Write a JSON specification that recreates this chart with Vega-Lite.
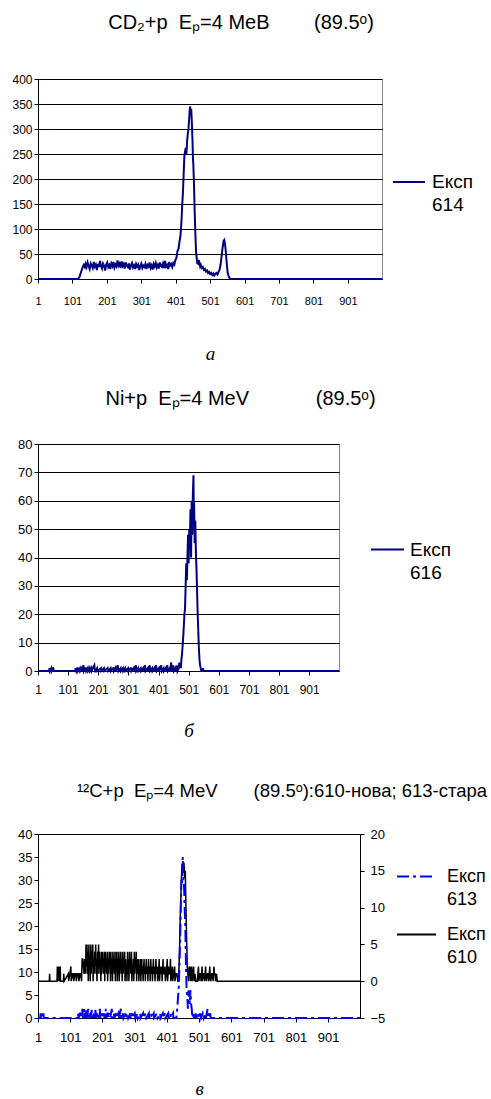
{
"$schema": "https://vega.github.io/schema/vega-lite/v6.json",
"background": "white",
"padding": {"left": 11, "top": 12, "right": 0, "bottom": 0},
"config": {
 "font": "Liberation Sans",
 "view": {"stroke": "#888888"},
 "style": {"guide-label": {"lineHeight": 23}},
 "title": {"font": "Liberation Sans", "fontWeight": "normal", "color": "#000", "anchor": "middle", "baseline": "alphabetic"},
 "axis": {"labelFont": "Liberation Sans", "labelColor": "#000", "domainColor": "#000", "tickColor": "#000", "labelFontSize": 12, "tickSize": 4, "grid": false, "labelPadding": 2,
   "titleFont": "Liberation Serif", "titleFontStyle": "italic", "titleFontWeight": "normal", "titleFontSize": 19, "titleColor": "#000"},
 "legend": {"labelFont": "Liberation Sans", "labelColor": "#000", "symbolType": "stroke", "padding": 0}
},
"datasets": {
"a": [{"c":1,"v":0},{"c":118,"v":0},{"c":122,"v":5},{"c":125,"v":12},{"c":128,"v":18},{"c":131,"v":24},{"c":134,"v":28},{"c":137,"v":24},{"c":139,"v":30},{"c":142,"v":24},{"c":145,"v":33},{"c":148,"v":26},{"c":151,"v":20},{"c":154,"v":31},{"c":157,"v":27},{"c":160,"v":22},{"c":163,"v":34},{"c":166,"v":25},{"c":169,"v":29},{"c":172,"v":18},{"c":175,"v":30},{"c":178,"v":24},{"c":181,"v":36},{"c":184,"v":26},{"c":187,"v":21},{"c":190,"v":31},{"c":193,"v":27},{"c":196,"v":17},{"c":199,"v":29},{"c":202,"v":33},{"c":205,"v":24},{"c":208,"v":28},{"c":211,"v":20},{"c":214,"v":31},{"c":217,"v":26},{"c":220,"v":34},{"c":223,"v":23},{"c":226,"v":29},{"c":229,"v":25},{"c":232,"v":37},{"c":235,"v":27},{"c":238,"v":31},{"c":241,"v":22},{"c":244,"v":35},{"c":247,"v":26},{"c":250,"v":30},{"c":253,"v":21},{"c":256,"v":33},{"c":259,"v":27},{"c":262,"v":24},{"c":265,"v":31},{"c":268,"v":19},{"c":271,"v":28},{"c":274,"v":32},{"c":277,"v":23},{"c":280,"v":27},{"c":283,"v":20},{"c":286,"v":30},{"c":289,"v":25},{"c":292,"v":29},{"c":295,"v":18},{"c":298,"v":26},{"c":301,"v":31},{"c":304,"v":22},{"c":307,"v":27},{"c":310,"v":24},{"c":313,"v":30},{"c":316,"v":20},{"c":319,"v":28},{"c":322,"v":25},{"c":325,"v":33},{"c":328,"v":22},{"c":331,"v":27},{"c":334,"v":19},{"c":337,"v":30},{"c":340,"v":25},{"c":343,"v":32},{"c":346,"v":23},{"c":349,"v":28},{"c":352,"v":21},{"c":355,"v":33},{"c":358,"v":26},{"c":361,"v":24},{"c":364,"v":31},{"c":367,"v":22},{"c":370,"v":36},{"c":373,"v":25},{"c":376,"v":28},{"c":379,"v":20},{"c":382,"v":34},{"c":385,"v":27},{"c":388,"v":30},{"c":391,"v":24},{"c":394,"v":32},{"c":397,"v":29},{"c":400,"v":38},{"c":403,"v":42},{"c":406,"v":56},{"c":409,"v":60},{"c":412,"v":75},{"c":415,"v":88},{"c":418,"v":120},{"c":420,"v":150},{"c":422,"v":175},{"c":424,"v":210},{"c":426,"v":245},{"c":428,"v":255},{"c":430,"v":262},{"c":432,"v":250},{"c":434,"v":275},{"c":436,"v":290},{"c":438,"v":300},{"c":440,"v":320},{"c":442,"v":342},{"c":443,"v":345},{"c":444,"v":335},{"c":446,"v":340},{"c":448,"v":310},{"c":450,"v":270},{"c":451,"v":240},{"c":452,"v":230},{"c":454,"v":190},{"c":456,"v":136},{"c":458,"v":90},{"c":460,"v":55},{"c":462,"v":40},{"c":464,"v":30},{"c":466,"v":38},{"c":468,"v":28},{"c":470,"v":32},{"c":472,"v":25},{"c":474,"v":28},{"c":477,"v":22},{"c":480,"v":24},{"c":483,"v":18},{"c":486,"v":20},{"c":489,"v":15},{"c":492,"v":17},{"c":495,"v":12},{"c":498,"v":14},{"c":501,"v":10},{"c":504,"v":12},{"c":507,"v":8},{"c":510,"v":11},{"c":513,"v":7},{"c":516,"v":10},{"c":519,"v":12},{"c":522,"v":9},{"c":525,"v":14},{"c":528,"v":18},{"c":531,"v":28},{"c":534,"v":45},{"c":537,"v":62},{"c":540,"v":76},{"c":542,"v":78},{"c":544,"v":70},{"c":546,"v":58},{"c":548,"v":40},{"c":550,"v":25},{"c":552,"v":12},{"c":555,"v":5},{"c":558,"v":1},{"c":561,"v":0},{"c":1000,"v":0}],
"b": [{"c":1,"v":0},{"c":38,"v":0},{"c":39,"v":1},{"c":40,"v":0},{"c":45,"v":1},{"c":46,"v":0},{"c":50,"v":1},{"c":52,"v":1},{"c":53,"v":0},{"c":125,"v":0},{"c":126,"v":1},{"c":128,"v":0},{"c":131,"v":1},{"c":133,"v":1},{"c":134,"v":0},{"c":140,"v":1},{"c":141,"v":0},{"c":146,"v":1},{"c":148,"v":0},{"c":152,"v":2},{"c":153,"v":0},{"c":158,"v":1},{"c":160,"v":1},{"c":161,"v":0},{"c":166,"v":1},{"c":167,"v":0},{"c":172,"v":1},{"c":173,"v":0},{"c":178,"v":1},{"c":179,"v":0},{"c":188,"v":2},{"c":189,"v":1},{"c":191,"v":0},{"c":197,"v":1},{"c":198,"v":0},{"c":210,"v":1},{"c":211,"v":0},{"c":220,"v":1},{"c":221,"v":0},{"c":232,"v":1},{"c":234,"v":0},{"c":242,"v":1},{"c":243,"v":0},{"c":250,"v":1},{"c":252,"v":1},{"c":253,"v":0},{"c":258,"v":1},{"c":259,"v":0},{"c":266,"v":2},{"c":267,"v":1},{"c":268,"v":0},{"c":275,"v":1},{"c":276,"v":0},{"c":283,"v":1},{"c":284,"v":0},{"c":290,"v":1},{"c":291,"v":0},{"c":300,"v":1},{"c":301,"v":0},{"c":308,"v":1},{"c":310,"v":1},{"c":311,"v":0},{"c":318,"v":1},{"c":319,"v":0},{"c":326,"v":2},{"c":327,"v":0},{"c":333,"v":1},{"c":334,"v":0},{"c":342,"v":1},{"c":343,"v":0},{"c":350,"v":1},{"c":351,"v":0},{"c":356,"v":2},{"c":357,"v":1},{"c":358,"v":0},{"c":365,"v":1},{"c":366,"v":0},{"c":372,"v":2},{"c":373,"v":0},{"c":380,"v":1},{"c":381,"v":0},{"c":387,"v":1},{"c":388,"v":0},{"c":393,"v":2},{"c":394,"v":1},{"c":395,"v":0},{"c":402,"v":1},{"c":403,"v":0},{"c":410,"v":2},{"c":411,"v":1},{"c":412,"v":0},{"c":418,"v":1},{"c":419,"v":0},{"c":425,"v":1},{"c":426,"v":0},{"c":430,"v":2},{"c":431,"v":1},{"c":432,"v":0},{"c":438,"v":1},{"c":439,"v":0},{"c":443,"v":3},{"c":444,"v":1},{"c":446,"v":0},{"c":450,"v":2},{"c":451,"v":1},{"c":452,"v":0},{"c":457,"v":1},{"c":458,"v":0},{"c":462,"v":2},{"c":463,"v":1},{"c":464,"v":0},{"c":468,"v":1},{"c":470,"v":3},{"c":471,"v":1},{"c":473,"v":2},{"c":475,"v":1},{"c":477,"v":4},{"c":479,"v":6},{"c":481,"v":9},{"c":483,"v":12},{"c":485,"v":16},{"c":487,"v":20},{"c":489,"v":22},{"c":491,"v":30},{"c":493,"v":38},{"c":495,"v":32},{"c":497,"v":40},{"c":499,"v":48},{"c":501,"v":38},{"c":503,"v":50},{"c":505,"v":44},{"c":507,"v":57},{"c":509,"v":40},{"c":511,"v":60},{"c":513,"v":48},{"c":515,"v":62},{"c":517,"v":69},{"c":518,"v":55},{"c":519,"v":60},{"c":521,"v":45},{"c":523,"v":53},{"c":525,"v":42},{"c":527,"v":36},{"c":529,"v":28},{"c":531,"v":20},{"c":533,"v":14},{"c":535,"v":8},{"c":537,"v":4},{"c":539,"v":2},{"c":541,"v":1},{"c":543,"v":0},{"c":548,"v":0},{"c":549,"v":1},{"c":550,"v":0},{"c":1000,"v":0}],
"c613": [{"c":1,"v":0},{"c":8,"v":0},{"c":9,"v":1},{"c":10,"v":0},{"c":14,"v":1},{"c":15,"v":0},{"c":18,"v":1},{"c":19,"v":0},{"c":124,"v":0},{"c":125,"v":1},{"c":127,"v":0},{"c":130,"v":1},{"c":132,"v":1},{"c":134,"v":0},{"c":138,"v":2},{"c":139,"v":1},{"c":141,"v":0},{"c":144,"v":2},{"c":146,"v":1},{"c":148,"v":0},{"c":150,"v":2},{"c":152,"v":0},{"c":155,"v":1},{"c":157,"v":2},{"c":158,"v":0},{"c":162,"v":1},{"c":164,"v":0},{"c":167,"v":2},{"c":168,"v":1},{"c":170,"v":0},{"c":174,"v":1},{"c":176,"v":0},{"c":180,"v":2},{"c":181,"v":0},{"c":185,"v":1},{"c":187,"v":0},{"c":191,"v":1},{"c":193,"v":2},{"c":194,"v":0},{"c":199,"v":1},{"c":200,"v":0},{"c":205,"v":1},{"c":207,"v":0},{"c":211,"v":2},{"c":212,"v":0},{"c":216,"v":1},{"c":218,"v":1},{"c":219,"v":0},{"c":224,"v":1},{"c":225,"v":0},{"c":230,"v":2},{"c":231,"v":0},{"c":236,"v":1},{"c":238,"v":0},{"c":243,"v":1},{"c":244,"v":0},{"c":250,"v":1},{"c":252,"v":0},{"c":258,"v":2},{"c":259,"v":0},{"c":264,"v":1},{"c":266,"v":0},{"c":272,"v":1},{"c":273,"v":0},{"c":279,"v":1},{"c":281,"v":0},{"c":287,"v":1},{"c":288,"v":0},{"c":293,"v":1},{"c":294,"v":0},{"c":301,"v":1},{"c":303,"v":0},{"c":310,"v":1},{"c":311,"v":0},{"c":318,"v":1},{"c":319,"v":0},{"c":327,"v":1},{"c":328,"v":0},{"c":335,"v":1},{"c":337,"v":0},{"c":345,"v":1},{"c":346,"v":0},{"c":352,"v":1},{"c":353,"v":0},{"c":360,"v":1},{"c":361,"v":0},{"c":370,"v":1},{"c":372,"v":0},{"c":380,"v":1},{"c":381,"v":0},{"c":388,"v":1},{"c":389,"v":0},{"c":395,"v":1},{"c":396,"v":0},{"c":405,"v":1},{"c":406,"v":0},{"c":412,"v":1},{"c":413,"v":0},{"c":420,"v":1},{"c":421,"v":0},{"c":430,"v":0},{"c":433,"v":2},{"c":436,"v":5},{"c":438,"v":7},{"c":440,"v":12},{"c":442,"v":17},{"c":444,"v":24},{"c":446,"v":30},{"c":448,"v":29},{"c":450,"v":35},{"c":452,"v":30},{"c":454,"v":29},{"c":456,"v":24},{"c":458,"v":20},{"c":460,"v":12},{"c":462,"v":6},{"c":464,"v":5},{"c":466,"v":2},{"c":468,"v":6},{"c":470,"v":5},{"c":472,"v":3},{"c":474,"v":6},{"c":476,"v":3},{"c":478,"v":2},{"c":480,"v":0},{"c":483,"v":1},{"c":486,"v":0},{"c":490,"v":1},{"c":493,"v":0},{"c":497,"v":1},{"c":500,"v":0},{"c":504,"v":1},{"c":507,"v":0},{"c":512,"v":1},{"c":515,"v":0},{"c":520,"v":1},{"c":522,"v":0},{"c":527,"v":2},{"c":528,"v":1},{"c":530,"v":0},{"c":535,"v":1},{"c":537,"v":0},{"c":1000,"v":0}],
"c610": [{"c":1,"v":0},{"c":36,"v":0},{"c":37,"v":1},{"c":38,"v":0},{"c":60,"v":0},{"c":61,"v":2},{"c":62,"v":0},{"c":66,"v":2},{"c":67,"v":0},{"c":70,"v":2},{"c":71,"v":0},{"c":80,"v":0},{"c":81,"v":1},{"c":82,"v":0},{"c":95,"v":1},{"c":96,"v":0},{"c":103,"v":2},{"c":104,"v":0},{"c":108,"v":1},{"c":110,"v":1},{"c":112,"v":0},{"c":115,"v":1},{"c":118,"v":1},{"c":120,"v":0},{"c":123,"v":1},{"c":126,"v":1},{"c":128,"v":0},{"c":131,"v":1},{"c":134,"v":1},{"c":136,"v":0},{"c":138,"v":3},{"c":140,"v":3},{"c":142,"v":2},{"c":144,"v":1},{"c":146,"v":3},{"c":148,"v":1},{"c":150,"v":5},{"c":151,"v":2},{"c":153,"v":5},{"c":154,"v":1},{"c":156,"v":4},{"c":157,"v":0},{"c":159,"v":5},{"c":160,"v":2},{"c":162,"v":3},{"c":163,"v":0},{"c":165,"v":5},{"c":166,"v":1},{"c":168,"v":4},{"c":169,"v":2},{"c":171,"v":5},{"c":172,"v":0},{"c":174,"v":3},{"c":175,"v":1},{"c":177,"v":4},{"c":178,"v":2},{"c":180,"v":5},{"c":181,"v":1},{"c":183,"v":3},{"c":184,"v":0},{"c":186,"v":4},{"c":187,"v":2},{"c":189,"v":5},{"c":190,"v":1},{"c":192,"v":4},{"c":193,"v":2},{"c":195,"v":3},{"c":196,"v":0},{"c":198,"v":4},{"c":199,"v":1},{"c":201,"v":4},{"c":202,"v":2},{"c":204,"v":3},{"c":205,"v":1},{"c":207,"v":4},{"c":208,"v":0},{"c":210,"v":4},{"c":211,"v":2},{"c":213,"v":3},{"c":214,"v":1},{"c":216,"v":4},{"c":217,"v":0},{"c":219,"v":3},{"c":220,"v":1},{"c":222,"v":4},{"c":223,"v":2},{"c":225,"v":4},{"c":226,"v":0},{"c":228,"v":3},{"c":229,"v":1},{"c":231,"v":4},{"c":232,"v":0},{"c":234,"v":3},{"c":235,"v":2},{"c":237,"v":4},{"c":238,"v":1},{"c":240,"v":3},{"c":241,"v":0},{"c":243,"v":4},{"c":244,"v":2},{"c":246,"v":4},{"c":247,"v":0},{"c":249,"v":3},{"c":250,"v":1},{"c":252,"v":4},{"c":253,"v":0},{"c":255,"v":3},{"c":256,"v":2},{"c":258,"v":4},{"c":259,"v":1},{"c":261,"v":3},{"c":262,"v":0},{"c":264,"v":4},{"c":265,"v":1},{"c":267,"v":3},{"c":268,"v":2},{"c":270,"v":4},{"c":271,"v":0},{"c":273,"v":3},{"c":274,"v":1},{"c":276,"v":2},{"c":277,"v":0},{"c":279,"v":4},{"c":280,"v":1},{"c":282,"v":3},{"c":283,"v":0},{"c":285,"v":4},{"c":286,"v":2},{"c":288,"v":3},{"c":289,"v":1},{"c":291,"v":4},{"c":292,"v":0},{"c":294,"v":2},{"c":295,"v":1},{"c":297,"v":3},{"c":298,"v":0},{"c":300,"v":4},{"c":301,"v":1},{"c":303,"v":3},{"c":304,"v":2},{"c":306,"v":4},{"c":307,"v":0},{"c":309,"v":3},{"c":310,"v":1},{"c":313,"v":3},{"c":314,"v":0},{"c":316,"v":2},{"c":317,"v":1},{"c":319,"v":3},{"c":320,"v":0},{"c":323,"v":3},{"c":324,"v":1},{"c":326,"v":2},{"c":327,"v":0},{"c":330,"v":3},{"c":331,"v":1},{"c":333,"v":2},{"c":334,"v":0},{"c":337,"v":3},{"c":338,"v":1},{"c":341,"v":2},{"c":342,"v":0},{"c":344,"v":3},{"c":345,"v":1},{"c":348,"v":2},{"c":349,"v":0},{"c":351,"v":3},{"c":352,"v":1},{"c":355,"v":2},{"c":356,"v":0},{"c":359,"v":3},{"c":360,"v":1},{"c":363,"v":2},{"c":364,"v":0},{"c":367,"v":3},{"c":368,"v":1},{"c":371,"v":2},{"c":372,"v":0},{"c":375,"v":1},{"c":377,"v":3},{"c":378,"v":0},{"c":381,"v":2},{"c":382,"v":1},{"c":385,"v":2},{"c":386,"v":0},{"c":389,"v":3},{"c":390,"v":1},{"c":393,"v":1},{"c":395,"v":2},{"c":396,"v":0},{"c":399,"v":1},{"c":402,"v":3},{"c":403,"v":0},{"c":406,"v":2},{"c":407,"v":1},{"c":410,"v":1},{"c":412,"v":3},{"c":413,"v":0},{"c":416,"v":1},{"c":418,"v":2},{"c":419,"v":0},{"c":422,"v":1},{"c":425,"v":2},{"c":426,"v":0},{"c":429,"v":1},{"c":432,"v":1},{"c":435,"v":0},{"c":437,"v":0},{"c":440,"v":4},{"c":442,"v":8},{"c":444,"v":11},{"c":446,"v":14},{"c":448,"v":16},{"c":450,"v":15},{"c":452,"v":16},{"c":454,"v":16},{"c":456,"v":14},{"c":458,"v":15},{"c":460,"v":10},{"c":462,"v":6},{"c":464,"v":2},{"c":466,"v":1},{"c":468,"v":0},{"c":470,"v":2},{"c":471,"v":1},{"c":473,"v":2},{"c":474,"v":0},{"c":476,"v":1},{"c":478,"v":2},{"c":479,"v":0},{"c":482,"v":1},{"c":484,"v":2},{"c":485,"v":0},{"c":488,"v":1},{"c":490,"v":0},{"c":495,"v":0},{"c":497,"v":1},{"c":499,"v":2},{"c":500,"v":0},{"c":503,"v":1},{"c":505,"v":1},{"c":507,"v":0},{"c":510,"v":2},{"c":511,"v":0},{"c":514,"v":1},{"c":516,"v":1},{"c":518,"v":0},{"c":521,"v":2},{"c":522,"v":1},{"c":524,"v":0},{"c":527,"v":1},{"c":529,"v":1},{"c":531,"v":0},{"c":534,"v":2},{"c":535,"v":1},{"c":537,"v":0},{"c":540,"v":1},{"c":542,"v":1},{"c":544,"v":0},{"c":547,"v":2},{"c":548,"v":1},{"c":550,"v":1},{"c":552,"v":0},{"c":555,"v":1},{"c":557,"v":0},{"c":1000,"v":0}]
},
"spacing": 40,
"resolve": {"scale": {"color": "independent", "strokeDash": "independent"}, "legend": {"color": "independent", "strokeDash": "independent"}},
"vconcat": [
{
 "spacing": 24,
 "resolve": {"scale": {"color": "independent"}, "legend": {"color": "independent"}},
 "vconcat": [
 {
  "width": 344, "height": 200,
  "title": {"text": "CD₂+p\u00a0\u00a0Eₚ=4 MeB\u00a0\u00a0\u00a0\u00a0\u00a0\u00a0\u00a0\u00a0(89.5ᵒ)", "fontSize": 20, "dx": 31, "offset": 40},
  "data": {"name": "a"},
  "mark": {"type": "line", "strokeWidth": 2},
  "encoding": {
   "x": {"field": "c", "type": "quantitative", "scale": {"domain": [1, 1000], "nice": false, "zero": false},
     "axis": {"values": [1,101,201,301,401,501,601,701,801,901], "labelFlush": false, "labelFontSize": 11, "labelPadding": 12, "title": "а", "titlePadding": 38}},
   "y": {"field": "v", "type": "quantitative", "scale": {"domain": [0, 400], "nice": false},
     "axis": {"values": [0,50,100,150,200,250,300,350,400], "grid": true, "gridColor": "#000", "gridOpacity": 1, "title": null}},
   "color": {"datum": "614", "type": "nominal", "scale": {"range": ["#000080"]},
     "legend": {"orient": "none", "legendX": 354, "legendY": 86, "title": null, "symbolSize": 1024, "symbolStrokeWidth": 2, "labelFontSize": 19, "labelOffset": 6, "labelExpr": "['Експ', datum.label]", "encode": {"labels": {"lineHeight": {"value": 29}}}}}
  }
 },
 {
  "width": 301, "height": 227,
  "title": {"text": "Ni+p\u00a0\u00a0Eₚ=4 MeV\u00a0\u00a0\u00a0\u00a0\u00a0\u00a0\u00a0\u00a0\u00a0\u00a0\u00a0\u00a0(89.5ᵒ)", "fontSize": 20, "dx": 52, "offset": 29},
  "data": {"name": "b"},
  "mark": {"type": "line", "strokeWidth": 2},
  "encoding": {
   "x": {"field": "c", "type": "quantitative", "scale": {"domain": [1, 1000], "nice": false, "zero": false},
     "axis": {"values": [1,101,201,301,401,501,601,701,801,901], "labelFlush": false, "labelFontSize": 12, "labelPadding": 9, "title": "б", "titlePadding": 26}},
   "y": {"field": "v", "type": "quantitative", "scale": {"domain": [0, 80], "nice": false},
     "axis": {"values": [0,10,20,30,40,50,60,70,80], "grid": true, "gridColor": "#000", "gridOpacity": 1, "title": null, "labelFontSize": 13}},
   "color": {"datum": "616", "type": "nominal", "scale": {"range": ["#000080"]},
     "legend": {"orient": "none", "legendX": 332, "legendY": 88, "title": null, "symbolSize": 1089, "symbolStrokeWidth": 2, "labelFontSize": 19, "labelOffset": 5, "labelExpr": "['Експ', datum.label]"}}
  }
 }
 ]
},
{
 "width": 322, "height": 184,
 "view": {"stroke": "#000"},
 "title": {"text": "¹²C+p\u00a0\u00a0Eₚ=4 MeV\u00a0\u00a0\u00a0\u00a0\u00a0\u00a0\u00a0(89.5ᵒ):610-нова; 613-стара", "fontSize": 18.5, "dx": 83, "offset": 28},
 "resolve": {"scale": {"y": "independent"}},
 "layer": [
  {
   "data": {"name": "c610"},
   "mark": {"type": "line", "strokeWidth": 1.5},
   "encoding": {
    "x": {"field": "c", "type": "quantitative", "scale": {"domain": [1, 1000], "nice": false, "zero": false},
      "axis": {"values": [1,101,201,301,401,501,601,701,801,901], "labelFlush": false, "labelFontSize": 13, "labelPadding": 9, "title": "в", "titlePadding": 35}},
    "y": {"field": "v", "type": "quantitative", "scale": {"domain": [-5, 20], "nice": false, "zero": false},
      "axis": {"orient": "right", "values": [-5,0,5,10,15,20], "title": null, "labelFontSize": 13, "labelPadding": 6}},
    "color": {"datum": "610", "type": "nominal", "scale": {"domain": ["613", "610"], "range": ["#0000ff", "#000000"]},
      "legend": {"orient": "none", "legendX": 358, "legendY": 22, "title": null, "symbolSize": 1521, "symbolStrokeWidth": 2, "labelFontSize": 18, "labelOffset": 10, "rowPadding": 5, "labelExpr": "['Експ', datum.label]", "encode": {"labels": {"lineHeight": {"value": 22}}}}},
    "strokeDash": {"datum": "610", "type": "nominal", "scale": {"domain": ["613", "610"], "range": [[12,4,3,4],[1,0]]},
      "legend": {"orient": "none", "legendX": 358, "legendY": 22, "title": null, "symbolSize": 1521, "symbolStrokeWidth": 2, "labelFontSize": 18, "labelOffset": 10, "rowPadding": 5, "labelExpr": "['Експ', datum.label]", "encode": {"labels": {"lineHeight": {"value": 22}}}}}
   }
  },
  {
   "data": {"name": "c613"},
   "mark": {"type": "line", "strokeWidth": 2},
   "encoding": {
    "x": {"field": "c", "type": "quantitative", "scale": {"domain": [1, 1000], "nice": false, "zero": false},
      "axis": {"values": [1,101,201,301,401,501,601,701,801,901], "labelFlush": false, "labelFontSize": 13, "labelPadding": 9, "title": "в", "titlePadding": 35}},
    "y": {"field": "v", "type": "quantitative", "scale": {"domain": [0, 40], "nice": false},
      "axis": {"orient": "left", "values": [0,5,10,15,20,25,30,35,40], "title": null, "labelFontSize": 13}},
    "color": {"datum": "613", "type": "nominal", "scale": {"domain": ["613", "610"], "range": ["#0000ff", "#000000"]}},
    "strokeDash": {"datum": "613", "type": "nominal", "scale": {"domain": ["613", "610"], "range": [[12,4,3,4],[1,0]]}}
   }
  }
 ]
}
]
}
